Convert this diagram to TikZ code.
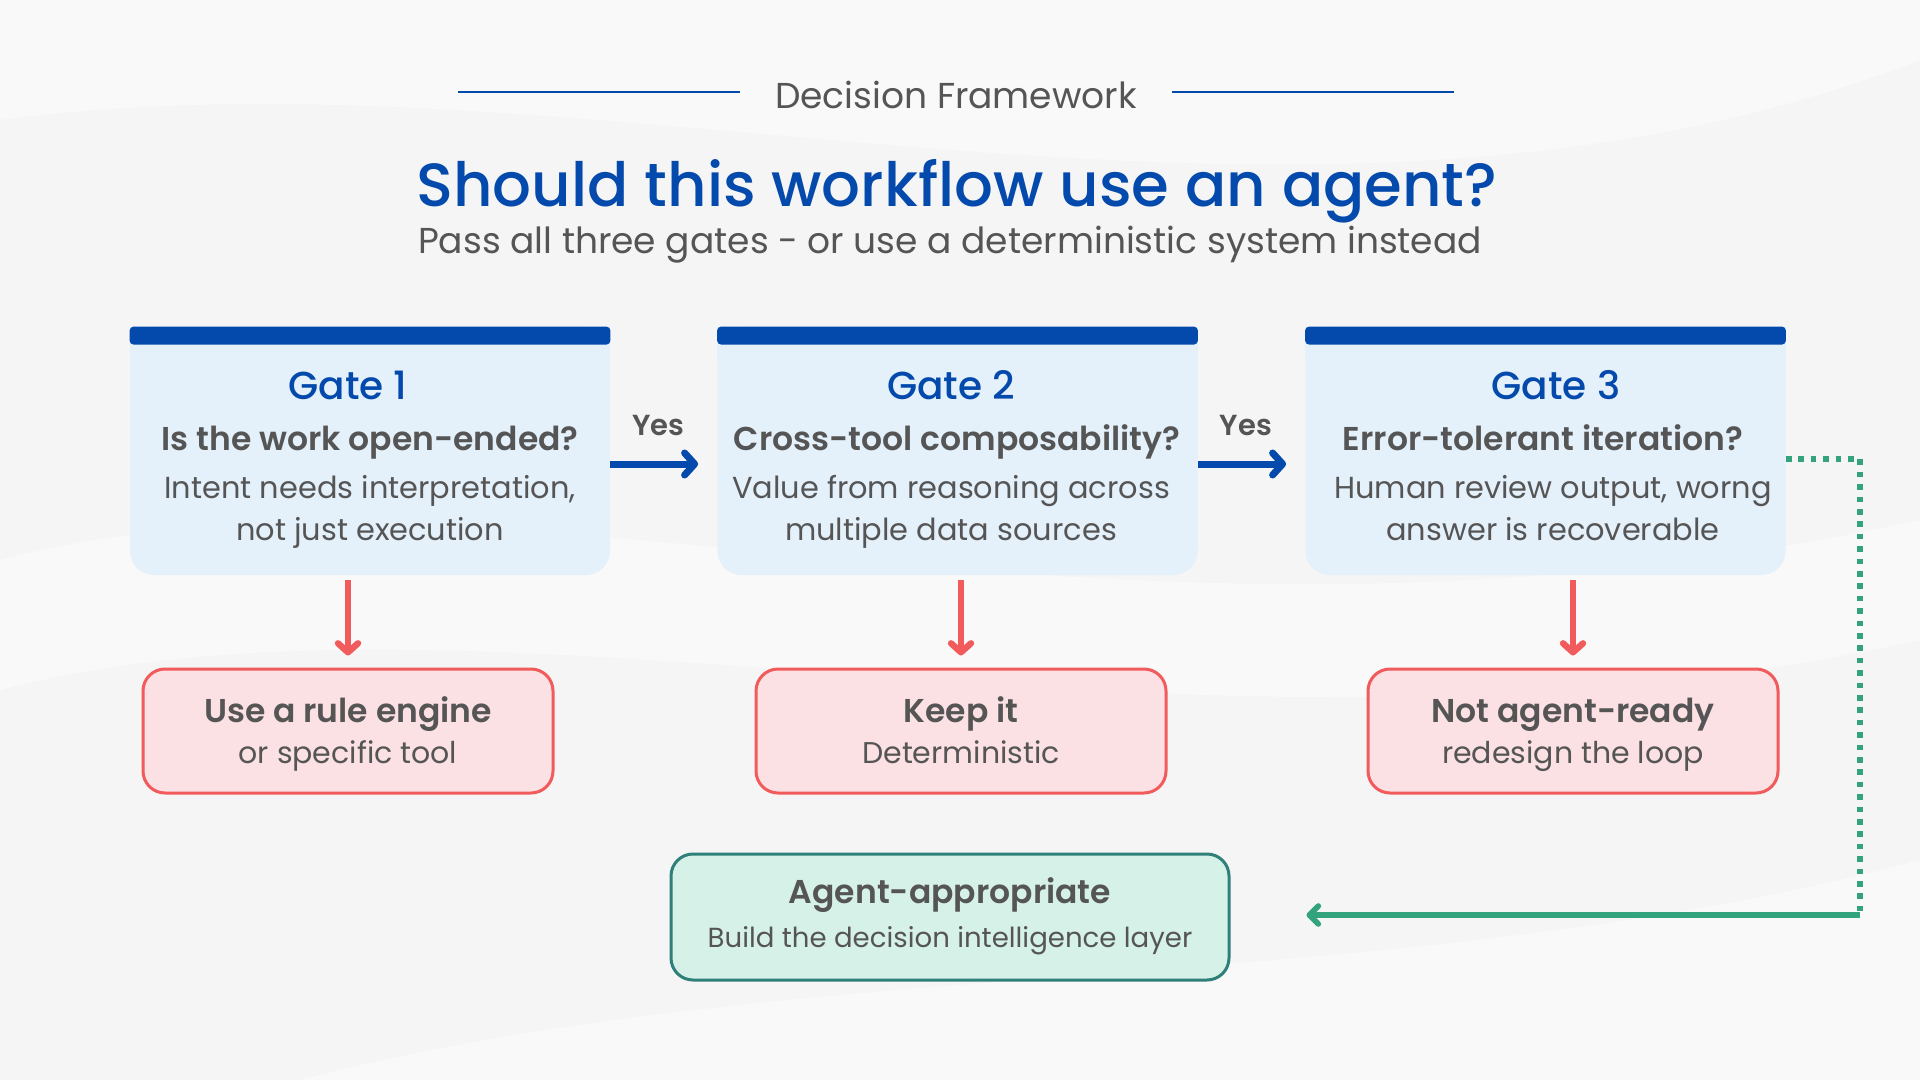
\documentclass[tikz,border=0pt]{standalone}
\usepackage{fontspec}
\setmainfont{Poppins}
\newfontfamily\medfont{Poppins Medium}
\newfontfamily\semifont{Poppins SemiBold}
\usetikzlibrary{arrows.meta}

\definecolor{navy}{HTML}{0449AC}
\definecolor{txtgray}{HTML}{555555}
\definecolor{gatefill}{HTML}{E4F0FA}
\definecolor{redline}{HTML}{F25B5B}
\definecolor{redfill}{HTML}{FBE1E3}
\definecolor{tealline}{HTML}{2F7F7A}
\definecolor{tealfill}{HTML}{D6F1E8}
\definecolor{greenline}{HTML}{33A37D}
\definecolor{bggray}{HTML}{F5F5F5}

\begin{document}
\begin{tikzpicture}[x=0.5pt, y=-0.5pt,
    gatebox/.style={rectangle, fill=gatefill, rounded corners=12pt, minimum width=240pt, minimum height=124pt, inner sep=0pt},
    gatetitle/.style={anchor=base, inner sep=0pt, text=navy, font=\medfont\fontsize{19.5}{23}\selectfont},
    question/.style={anchor=base, inner sep=0pt, text=txtgray, font=\semifont\fontsize{16.5}{20}\selectfont},
    gatedesc/.style={anchor=base, inner sep=0pt, text=txtgray, align=center, font=\fontsize{15.2}{21}\selectfont},
    stopbox/.style={rectangle, draw=redline, line width=1.5pt, fill=redfill, rounded corners=11pt, minimum width=205pt, minimum height=62pt},
    okbox/.style={rectangle, draw=tealline, line width=1.5pt, fill=tealfill, rounded corners=11pt, minimum width=279pt, minimum height=63pt},
    boxhead/.style={anchor=base, inner sep=0pt, text=txtgray, font=\semifont\fontsize{16.5}{20}\selectfont},
    boxsub/.style={anchor=base, inner sep=0pt, text=txtgray, font=\fontsize{15}{18}\selectfont},
    yeslbl/.style={inner sep=0pt, outer sep=0pt, text=txtgray, font=\semifont\fontsize{14.5}{17}\selectfont},
    yesarrow/.style={draw=navy, line width=3.5pt, -{Straight Barb[round, length=5pt, width=11pt]}},
    noarrow/.style={draw=redline, line width=3.2pt, -{Straight Barb[round, length=4.5pt, width=10pt]}},
    loopdots/.style={draw=greenline, line width=3pt, dash pattern=on 2.8pt off 3.4pt},
    looparrow/.style={draw=greenline, line width=2.8pt, -{Straight Barb[round, length=4.5pt, width=9pt]}}]

  % background
  \fill[bggray] (0,0) rectangle (1920,1080);
  \useasboundingbox (0,0) rectangle (1920,1080);
  \fill[white, opacity=0.45] (0,560) .. controls (500,430) and (1100,700) .. (1920,520) -- (1920,640) .. controls (1200,800) and (500,560) .. (0,690) -- cycle;
  \fill[white, opacity=0.45] (0,120) .. controls (600,40) and (1300,300) .. (1920,60) -- (1920,0) -- (0,0) -- cycle;
  \fill[white, opacity=0.45] (300,1080) .. controls (800,950) and (1400,1000) .. (1920,860) -- (1920,1080) -- cycle;

  % header
  \node[anchor=base, inner sep=0pt, text=txtgray, font=\fontsize{18}{22}\selectfont] (kicker) at (956,109) {Decision Framework};
  \draw[navy, line width=1pt] ([xshift=-17.5pt,yshift=1.5pt]kicker.west) -- ++(-282,0);
  \draw[navy, line width=1pt] ([xshift=17.5pt,yshift=1.5pt]kicker.east) -- ++(282,0);
  \node[anchor=base, inner sep=0pt, text=navy, font=\medfont\fontsize{30.5}{36}\selectfont] (headline) at (957,207) {Should this workflow use an agent?};
  \node[anchor=base, inner sep=0pt, text=txtgray, font=\fontsize{18}{22}\selectfont] (subline) at (950,254) {Pass all three gates - or use a deterministic system instead};

  % gates
  \node[gatebox] (gate1) at (370,451) {};
  \node[gatebox] (gate2) at (957.5,451) {};
  \node[gatebox] (gate3) at (1545.5,451) {};
  \foreach \g in {gate1,gate2,gate3} {
    \fill[gatefill] (\g.north west) rectangle ([yshift=-16pt]\g.north east);
    \fill[navy, rounded corners=2pt] (\g.north west) rectangle ([yshift=-9pt]\g.north east);
  }

  \node[gatetitle] (g1title) at (348,400) {Gate 1};
  \node[question] (g1q) at (370,450) {Is the work open-ended?};
  \node[gatedesc] (g1d) at (370,540) {Intent needs interpretation,\\not just execution};

  \node[gatetitle] (g2title) at (951,400) {Gate 2};
  \node[question] (g2q) at (957,450) {Cross-tool composability?};
  \node[gatedesc] (g2d) at (951,540) {Value from reasoning across\\multiple data sources};

  \node[gatetitle] (g3title) at (1556,400) {Gate 3};
  \node[question] (g3q) at (1543,450) {Error-tolerant iteration?};
  \node[gatedesc] (g3d) at (1553,540) {Human review output, worng\\answer is recoverable};

  % outcomes
  \node[stopbox] (rule) at (348,731) {};
  \node[boxhead] at (348,722) {Use a rule engine};
  \node[boxsub] at (348,763) {or specific tool};

  \node[stopbox] (keep) at (961,731) {};
  \node[boxhead] at (961,722) {Keep it};
  \node[boxsub] at (961,763) {Deterministic};

  \node[stopbox] (notready) at (1573,731) {};
  \node[boxhead] at (1573,722) {Not agent-ready};
  \node[boxsub] at (1573,763) {redesign the loop};

  \node[okbox] (agent) at (950,917) {};
  \node[boxhead] at (950,903) {Agent-appropriate};
  \node[boxsub, font=\fontsize{13.8}{16}\selectfont] at (950,947) {Build the decision intelligence layer};

  % connectors
  \draw[yesarrow] ([yshift=-6.5pt]gate1.east) -- ([xshift=-9.5pt,yshift=-6.5pt]gate2.west)
    node[yeslbl, midway, above=14pt, xshift=2pt] {Yes};
  \draw[yesarrow] ([yshift=-6.5pt]gate2.east) -- ([xshift=-9.5pt,yshift=-6.5pt]gate3.west)
    node[yeslbl, midway, above=14pt, xshift=2pt] {Yes};

  \draw[noarrow] ([yshift=-2.5pt]gate1.south -| rule.north) -- ([yshift=6pt]rule.north);
  \draw[noarrow] ([yshift=-2.5pt]gate2.south -| keep.north) -- ([yshift=6pt]keep.north);
  \draw[noarrow] ([yshift=-2.5pt]gate3.south -| notready.north) -- ([yshift=6pt]notready.north);

  \coordinate (loopR) at (1860,915);
  \draw[loopdots] ([yshift=-4pt]gate3.east) -| (loopR);
  \draw[looparrow] (loopR) -- ([xshift=38pt,yshift=1pt]agent.east);
\end{tikzpicture}
\end{document}
